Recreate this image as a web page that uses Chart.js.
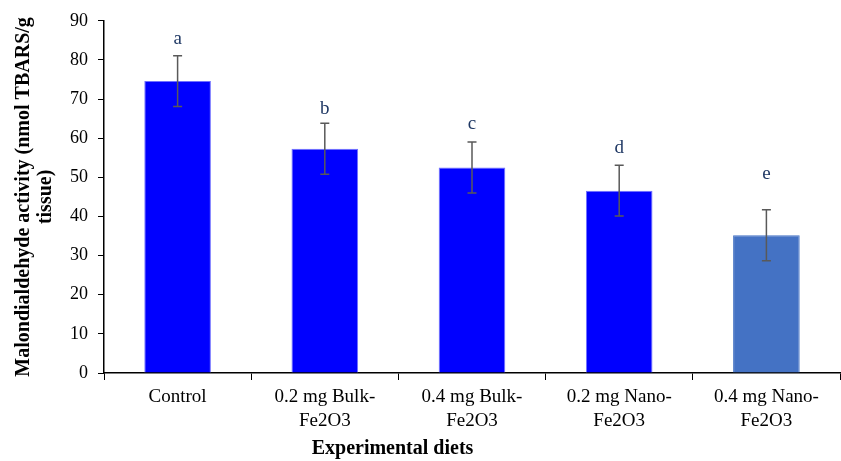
<!DOCTYPE html>
<html>
<head>
<meta charset="utf-8">
<script src="https://cdn.jsdelivr.net/npm/chart.js@4/dist/chart.umd.min.js"></script>
<style>
  html, body { margin: 0; padding: 0; background: #fff; }
  #wrap { width: 841px; height: 461px; }
</style>
</head>
<body>
<div id="wrap"><canvas id="mdaChart"></canvas></div>
<script>
const dietLabels = [
    ['Control'],
    ['0.2 mg Bulk-', 'Fe2O3'],
    ['0.4 mg Bulk-', 'Fe2O3'],
    ['0.2 mg Nano-', 'Fe2O3'],
    ['0.4 mg Nano-', 'Fe2O3']
];
const mdaMeans = [74.6, 57.3, 52.5, 46.6, 35.2];
const mdaErrors = [6.5, 6.5, 6.5, 6.5, 6.5];
const groupLetters = ['a', 'b', 'c', 'd', 'e'];
const letterPositions = [85.4, 67.5, 63.7, 57.4, 50.9];
const barColors = ['#0000FF', '#0000FF', '#0000FF', '#0000FF', '#4472C4'];
const barBorders = ['#7070FF', '#7070FF', '#7070FF', '#7070FF', '#4472C4'];

const serif = "'Liberation Serif', 'Times New Roman', serif";

/** Error bars and the group letters above them. */
const errorBarPlugin = {
    id: 'errorBars',
    afterDatasetsDraw(chart) {
        const ctx = chart.ctx;
        const x = chart.scales.x;
        const y = chart.scales.y;
        ctx.save();
        ctx.strokeStyle = '#595959';
        ctx.lineWidth = 1.5;
        mdaMeans.forEach((v, i) => {
            const px = x.getPixelForValue(i);
            const top = y.getPixelForValue(v + mdaErrors[i]);
            const bottom = y.getPixelForValue(v - mdaErrors[i]);
            ctx.beginPath();
            ctx.moveTo(px, top);
            ctx.lineTo(px, bottom);
            ctx.moveTo(px - 4.5, top);
            ctx.lineTo(px + 4.5, top);
            ctx.moveTo(px - 4.5, bottom);
            ctx.lineTo(px + 4.5, bottom);
            ctx.stroke();
        });
        ctx.fillStyle = '#1F3864';
        ctx.font = '19px ' + serif;
        ctx.textAlign = 'center';
        ctx.textBaseline = 'middle';
        groupLetters.forEach((l, i) => {
            ctx.fillText(l, x.getPixelForValue(i), y.getPixelForValue(letterPositions[i]));
        });

        /** x axis title sits left of centre in the original */
        ctx.fillStyle = '#000';
        ctx.font = 'bold 20px ' + serif;
        ctx.fillText('Experimental diets', chart.chartArea.left + chart.chartArea.width * 0.392, 449);
        ctx.restore();
    }
};

var ctxB = document.getElementById('mdaChart').getContext('2d');

var mdaChart = new Chart(ctxB, {
    type: 'bar',
    data: {
        labels: dietLabels,
        datasets: [{
            data: mdaMeans,
            backgroundColor: barColors,
            borderColor: barBorders,
            borderWidth: 1,
            categoryPercentage: 0.905,
            barPercentage: 0.5
        }]
    },
    options: {
        responsive: true,
        maintainAspectRatio: false,
        animation: false,
        layout: { padding: { top: 19, right: 1, left: 0, bottom: 0 } },
        plugins: {
            legend: { display: false },
            tooltip: { enabled: false }
        },
        scales: {
            x: {
                offset: true,
                grid: {
                    offset: true,
                    drawOnChartArea: false,
                    tickLength: 7,
                    color: '#000',
                    lineWidth: 1
                },
                border: { color: '#000', width: 1.5 },
                ticks: {
                    color: '#000',
                    font: { family: serif, size: 19, lineHeight: 1.25 },
                    maxRotation: 0,
                    padding: 5
                },
                afterFit(scale) { scale.height = 88; }
            },
            y: {
                min: 0,
                max: 90,
                ticks: {
                    stepSize: 10,
                    color: '#000',
                    font: { family: serif, size: 18 },
                    padding: 10
                },
                grid: {
                    drawOnChartArea: false,
                    tickLength: 6,
                    color: '#000',
                    lineWidth: 1
                },
                border: { color: '#000', width: 1.5 },
                title: {
                    display: true,
                    text: ['Malondialdehyde activity (nmol TBARS/g', 'tissue)'],
                    color: '#000',
                    font: { family: serif, size: 20, weight: 'bold', lineHeight: 1.1 },
                    padding: { top: 13, bottom: 4 }
                },
                afterFit(scale) { scale.width = 104; }
            }
        }
    },
    plugins: [errorBarPlugin]
});
</script>
</body>
</html>
